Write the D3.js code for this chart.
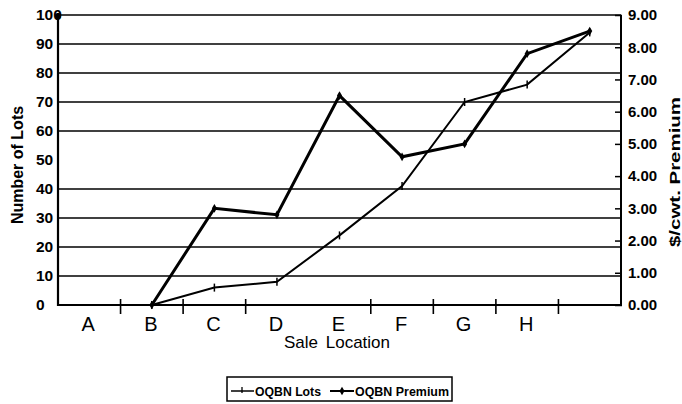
<!DOCTYPE html>
<html>
<head>
<meta charset="utf-8">
<script src="https://cdn.jsdelivr.net/npm/d3@7"></script>
<style>
  html, body { margin: 0; padding: 0; background: #fff; }
  svg { display: block; }
  text { font-family: "Liberation Sans", Arial, Helvetica, sans-serif; fill: #000; }
</style>
</head>
<body>
<svg id="chart" width="682" height="404"></svg>
<script>
// ---- data ----
const categories = ["A", "B", "C", "D", "E", "F", "G", "H", ""];
const lotsValues = [null, 0, 6, 8, 24, 41, 70, 76, 94];          // Number of Lots (left axis)
const premiumValues = [null, 0, 3.0, 2.8, 6.5, 4.6, 5.0, 7.8, 8.5]; // $/cwt. Premium (right axis)
const leftTicks = [0, 10, 20, 30, 40, 50, 60, 70, 80, 90, 100];
const rightTicks = [0, 1, 2, 3, 4, 5, 6, 7, 8, 9];
const gridValues = [10, 20, 30, 40, 60, 70, 80, 90, 100];
const xTickAfter = ["A", "B", "C", "E", "F", "G", "H"];
const seriesNames = ["OQBN Lots", "OQBN Premium"];

// ---- layout ----
const L = 58, R = 621, T = 15, B = 305;
const svg = d3.select("#chart");

const x = d3.scaleBand().domain(categories).range([L, R]).padding(0);
const yL = d3.scaleLinear().domain([0, 100]).range([B, T]);
const yR = d3.scaleLinear().domain([0, 9]).range([B, T]);

// gridlines
svg.append("g").selectAll("line").data(gridValues).join("line")
  .attr("x1", L).attr("x2", R)
  .attr("y1", d => yL(d)).attr("y2", d => yL(d))
  .attr("stroke", "#000").attr("stroke-width", 1.6);

// left axis
const gL = svg.append("g").attr("transform", `translate(${L},0)`)
  .call(d3.axisLeft(yL).tickValues(leftTicks).tickSize(0).tickPadding(0).tickFormat(d3.format("d")));
gL.select(".domain").remove();
gL.selectAll("text")
  .attr("x", -22).attr("text-anchor", "start")
  .attr("font-size", 15.5).attr("font-weight", "bold")
  .style("font-family", "'Liberation Sans', Arial, sans-serif");
svg.append("line").attr("x1", L).attr("x2", L).attr("y1", T - 2).attr("y2", B + 1)
  .attr("stroke", "#000").attr("stroke-width", 2.2);
svg.append("circle").attr("cx", L).attr("cy", T + 1).attr("r", 3).attr("fill", "#000");

// right axis
const gR = svg.append("g").attr("transform", `translate(${R},0)`)
  .call(d3.axisRight(yR).tickValues(rightTicks).tickSize(0).tickPadding(7).tickFormat(d3.format(".2f")));
gR.select(".domain").remove();
gR.selectAll("text")
  .attr("font-size", 15).attr("font-weight", "bold")
  .style("font-family", "'Liberation Sans', Arial, sans-serif");
gR.selectAll(".tick").append("line")
  .attr("x1", -6).attr("x2", 1).attr("stroke", "#000").attr("stroke-width", 1.5);
svg.append("line").attr("x1", R).attr("x2", R).attr("y1", T).attr("y2", B)
  .attr("stroke", "#000").attr("stroke-width", 2);

// x axis
svg.append("line").attr("x1", L).attr("x2", R).attr("y1", B).attr("y2", B)
  .attr("stroke", "#000").attr("stroke-width", 2.2);
svg.append("g").selectAll("line").data(xTickAfter).join("line")
  .attr("x1", d => x(d) + x.bandwidth()).attr("x2", d => x(d) + x.bandwidth())
  .attr("y1", B - 6).attr("y2", B + 9)
  .attr("stroke", "#000").attr("stroke-width", 1.6);
svg.append("g").selectAll("text").data(categories).join("text")
  .attr("x", d => x(d) + x.bandwidth() / 2 - 1).attr("y", 331)
  .attr("text-anchor", "middle").attr("font-size", 20)
  .text(d => d);

// axis titles
svg.append("text").attr("x", 337).attr("y", 348).attr("text-anchor", "middle")
  .attr("font-size", 17).style("word-spacing", "3px").text("Sale Location");
svg.append("text").attr("transform", "translate(23,165) rotate(-90)")
  .attr("text-anchor", "middle").attr("font-size", 16).attr("font-weight", "bold")
  .text("Number of Lots");
svg.append("text").attr("transform", "translate(680,172) rotate(-90)")
  .attr("text-anchor", "middle").attr("font-size", 15).attr("font-weight", "bold")
  .attr("textLength", 150).attr("lengthAdjust", "spacingAndGlyphs")
  .text("$/cwt. Premium");

// series
const cx = (d, i) => x(categories[i]) + x.bandwidth() / 2;
const lotsData = lotsValues.map((v, i) => ({ i, v })).filter(d => d.v !== null);
const premData = premiumValues.map((v, i) => ({ i, v })).filter(d => d.v !== null);

const lotsLine = d3.line().x(d => cx(null, d.i)).y(d => yL(d.v));
const premLine = d3.line().x(d => cx(null, d.i)).y(d => yR(d.v));

svg.append("path").datum(lotsData).attr("d", lotsLine)
  .attr("fill", "none").attr("stroke", "#000").attr("stroke-width", 2);
svg.append("path").datum(premData).attr("d", premLine)
  .attr("fill", "none").attr("stroke", "#000").attr("stroke-width", 3);

// markers
svg.append("g").selectAll("line").data(lotsData).join("line")
  .attr("x1", d => cx(null, d.i)).attr("x2", d => cx(null, d.i))
  .attr("y1", d => yL(d.v) - 4).attr("y2", d => yL(d.v) + 4)
  .attr("stroke", "#000").attr("stroke-width", 1.5);
svg.append("g").selectAll("path").data(premData).join("path")
  .attr("transform", d => `translate(${cx(null, d.i)},${yR(d.v)})`)
  .attr("d", d3.symbol(d3.symbolDiamond, 22))
  .attr("fill", "#000");

// legend
const lg = svg.append("g");
lg.append("rect").attr("x", 227).attr("y", 377).attr("width", 225).attr("height", 24)
  .attr("fill", "none").attr("stroke", "#000").attr("stroke-width", 1.5);
// lots sample
lg.append("line").attr("x1", 231).attr("x2", 254).attr("y1", 391).attr("y2", 391)
  .attr("stroke", "#000").attr("stroke-width", 1.5);
lg.append("line").attr("x1", 242).attr("x2", 242).attr("y1", 387).attr("y2", 393)
  .attr("stroke", "#000").attr("stroke-width", 1.3);
lg.append("text").attr("x", 255).attr("y", 396).attr("font-size", 12).attr("font-weight", "bold")
  .attr("textLength", 66).attr("lengthAdjust", "spacingAndGlyphs").text(seriesNames[0]);
// premium sample
lg.append("line").attr("x1", 330).attr("x2", 354).attr("y1", 391).attr("y2", 391)
  .attr("stroke", "#000").attr("stroke-width", 2);
lg.append("path").attr("transform", "translate(342,391)")
  .attr("d", d3.symbol(d3.symbolDiamond, 22)).attr("fill", "#000");
lg.append("text").attr("x", 355).attr("y", 396).attr("font-size", 12).attr("font-weight", "bold")
  .attr("textLength", 94).attr("lengthAdjust", "spacingAndGlyphs").text(seriesNames[1]);
</script>
</body>
</html>
